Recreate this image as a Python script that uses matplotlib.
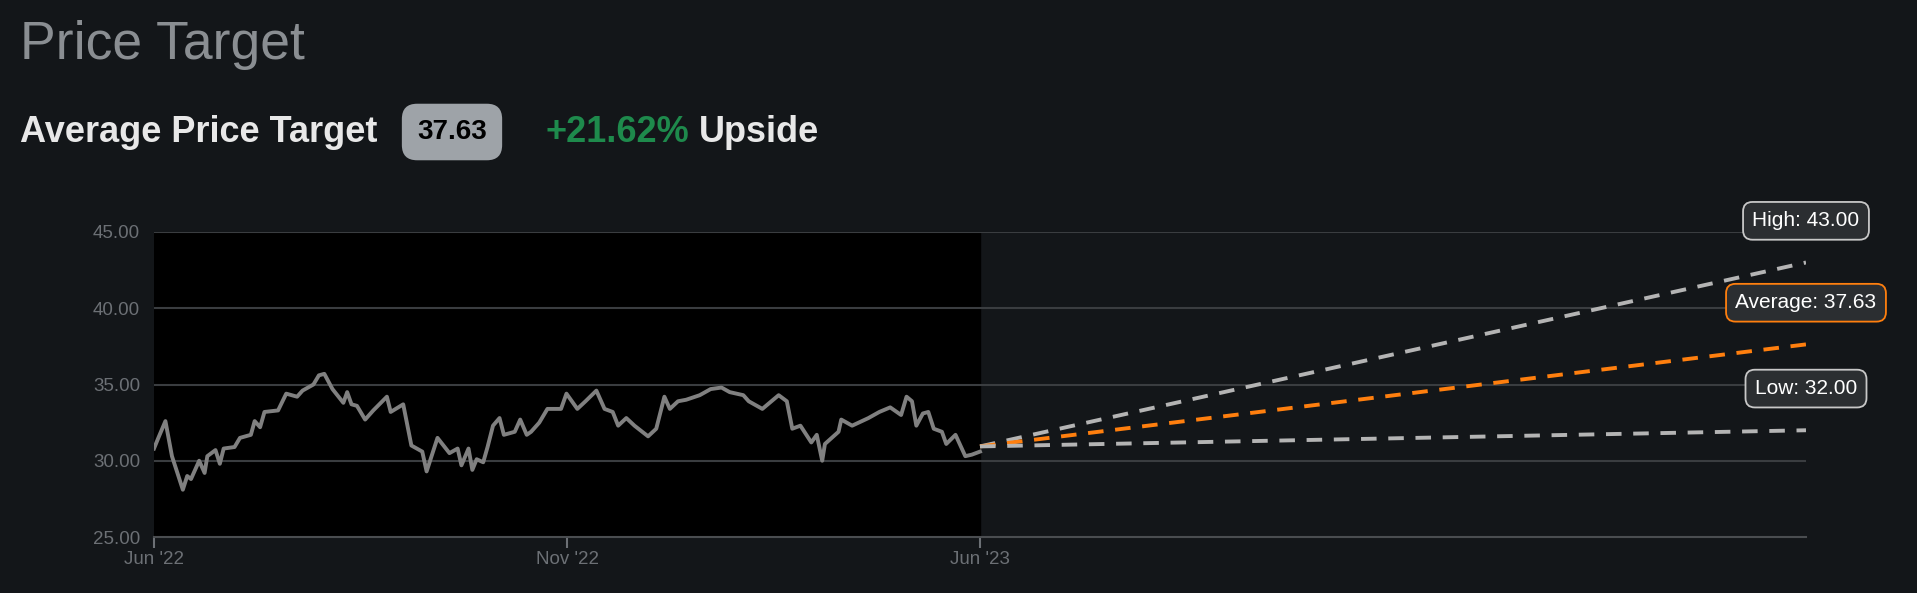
import matplotlib.pyplot as plt
import numpy as np

# price history: x as fraction of the year Jun '22 -> Jun '23
hist_px = [27, 35, 48, 60, 80, 88, 95, 110, 120, 125, 140, 148, 155, 175, 185, 205, 212, 222, 230, 255,
           270, 290, 300, 320, 330, 340, 355, 375, 382, 390, 400, 415, 430, 455, 462, 485, 500, 520, 528, 548,
           570, 585, 592, 605, 612, 620, 632, 640, 650, 662, 670, 690, 700, 712, 720, 735, 750, 775, 785, 805,
           820, 840, 855, 870, 880, 895, 910, 935, 950, 965, 975, 990, 1005, 1030, 1050, 1070, 1085, 1110, 1120, 1145,
           1175, 1190, 1200, 1215, 1235, 1245, 1255, 1260, 1285, 1290, 1310, 1340, 1360, 1380, 1400, 1410, 1420, 1428, 1440, 1450,
           1460, 1475, 1483, 1500, 1518, 1530, 1545]
hist_price = [30.8, 31.5, 32.6, 30.3, 28.1, 29.0, 28.8, 30.0, 29.2, 30.3, 30.7, 29.8, 30.8, 30.9, 31.5, 31.7, 32.6, 32.2, 33.2, 33.3,
              34.4, 34.2, 34.6, 35.0, 35.6, 35.7, 34.7, 33.8, 34.5, 33.7, 33.6, 32.7, 33.3, 34.2, 33.2, 33.7, 31.0, 30.6, 29.3, 31.5,
              30.5, 30.8, 29.7, 30.8, 29.4, 30.1, 29.9, 30.9, 32.3, 32.8, 31.7, 31.9, 32.7, 31.7, 31.9, 32.5, 33.4, 33.4, 34.4, 33.4,
              33.9, 34.6, 33.4, 33.2, 32.3, 32.8, 32.3, 31.6, 32.1, 34.2, 33.4, 33.9, 34.0, 34.3, 34.7, 34.8, 34.5, 34.3, 33.9, 33.4,
              34.3, 33.9, 32.1, 32.3, 31.2, 31.7, 30.0, 31.1, 31.9, 32.7, 32.3, 32.8, 33.2, 33.5, 33.0, 34.2, 33.9, 32.3, 33.1, 33.2,
              32.1, 31.9, 31.1, 31.7, 30.3, 30.4, 30.6]
current = 30.94
targets = {"High": 43.00, "Average": 37.63, "Low": 32.00}
tick_pos = [0, 0.5, 1.0]
tick_labels = ["Jun '22", "Nov '22", "Jun '23"]
yticks = [25, 30, 35, 40, 45]

bg = "#131619"
fig = plt.figure(figsize=(19.17, 5.93), dpi=100, facecolor=bg)
plt.rcParams['font.family'] = ['Liberation Sans', 'DejaVu Sans']
ax = fig.add_axes([154 / 1917, 1 - 537 / 593, (1806 - 154) / 1917, (537 - 232) / 593], facecolor=bg)

hx = (np.array(hist_px) - 27) / (1545 - 27)
ax.axvspan(0, 1, color="black", zorder=0)
for y in yticks[1:]:
    ax.axhline(y, color="#3a3d40", lw=1.5, zorder=1)
ax.plot(hx, hist_price, color="#808080", lw=2.8, zorder=3)

cols = {"High": "#b4b4b4", "Average": "#ff7f0e", "Low": "#b4b4b4"}
for name, val in targets.items():
    ax.plot([1, 2], [current, val], color=cols[name], lw=2.8, ls=(0, (4, 3)), zorder=4)
    ec = cols[name] if name == "Average" else "#c8c8c8"
    ax.annotate(f"{name}: {val:.2f}", xy=(2, val), xytext=(0, 30), textcoords="offset points",
                ha="center", va="center", color="white", fontsize=15, annotation_clip=False,
                bbox=dict(boxstyle="round,pad=0.45", fc="#2b2e31", ec=ec, lw=1.3), zorder=6)

ax.set_xlim(0, 2)
ax.set_ylim(25, 45)
ax.set_yticks(yticks)
ax.set_yticklabels([f"{y:.2f}" for y in yticks])
ax.set_xticks(tick_pos)
ax.set_xticklabels(tick_labels)
ax.tick_params(colors="#6c7075", labelsize=13.5, length=8, width=1.5)
ax.tick_params(axis="x", pad=2)
ax.tick_params(axis="y", length=0, pad=10)
for s in ["top", "right", "left"]:
    ax.spines[s].set_visible(False)
ax.spines["bottom"].set_color("#4a4d50")
ax.spines["bottom"].set_linewidth(1.5)

fig.text(20 / 1917, 1 - 45 / 593, "Price Target", color="#8a8e92", fontsize=38.5, va="center")
fig.text(20 / 1917, 1 - 132 / 593, "Average Price Target", color="#e8e8e8", fontsize=26,
         fontweight="bold", va="center")
fig.text(452 / 1917, 1 - 132 / 593, "37.63", color="black", fontsize=20, fontweight="bold",
         ha="center", va="center", bbox=dict(boxstyle="round,pad=0.55", fc="#9ea3a8", ec="none"))
fig.text(545 / 1917, 1 - 132 / 593, "+21.62%", color="#1e8a4c", fontsize=26, fontweight="bold", va="center")
fig.text(699 / 1917, 1 - 132 / 593, "Upside", color="#e8e8e8", fontsize=26, fontweight="bold", va="center")

fig.savefig("out.png", dpi=100, facecolor=bg)
